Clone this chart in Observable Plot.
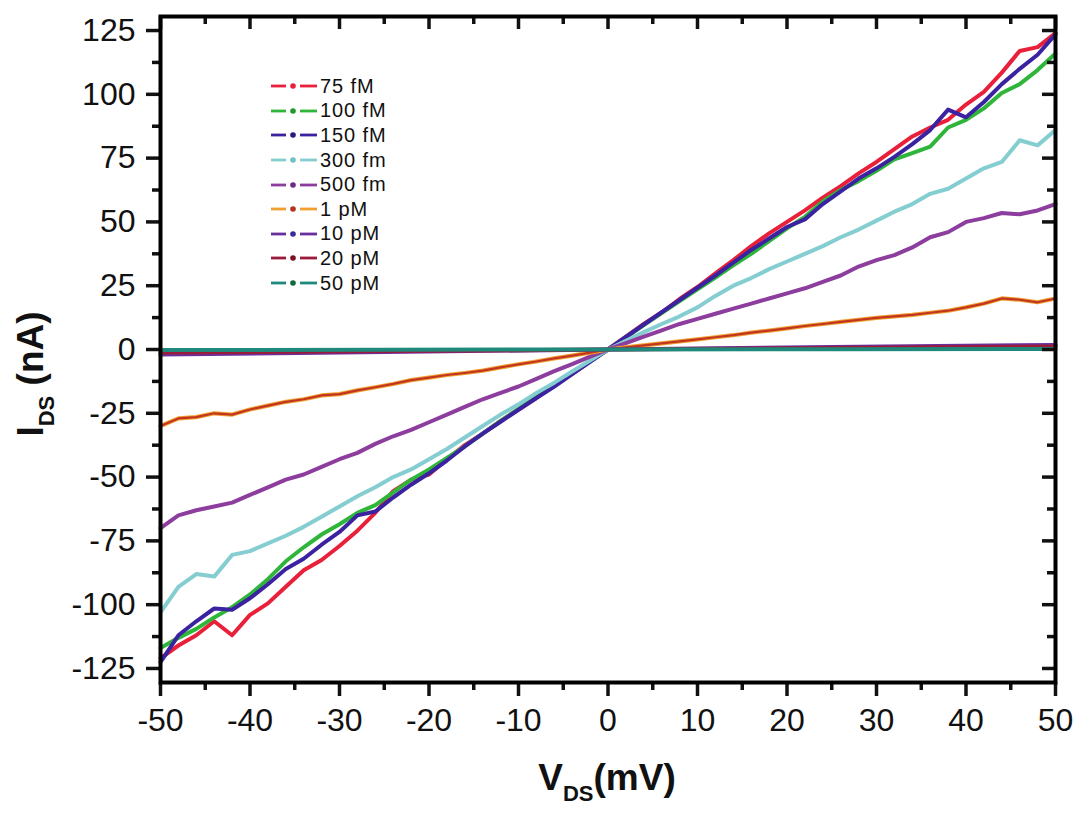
<!DOCTYPE html>
<html>
<head>
<meta charset="utf-8">
<script src="https://cdn.jsdelivr.net/npm/d3@7"></script>
<script src="https://cdn.jsdelivr.net/npm/@observablehq/plot@0.6"></script>
<style>
  body { margin: 0; background: #fff; font-family: "Liberation Sans", Arial, sans-serif; }
  #chart { position: relative; width: 1087px; height: 819px; }
  #legend { position: absolute; left: 271px; top: 74px; }
  #legend .row { height: 24.6px; display: flex; align-items: center; }
  #legend .row span { font-size: 20px; margin-left: 3px; color: #111; letter-spacing: 0.9px; }
</style>
</head>
<body>
<div id="chart"><div id="legend"></div></div>
<script>
// ---------- Data ----------
const V = [-50,-48,-46,-44,-42,-40,-38,-36,-34,-32,-30,-28,-26,-24,-22,-20,-18,-16,-14,-12,-10,-8,-6,-4,-2,
           0,2,4,6,8,10,12,14,16,18,20,22,24,26,28,30,32,34,36,38,40,42,44,46,48,50];
const V_FLAT = [-50, -25, 0, 25, 50];

const I_75fM  = [-121,-116,-112,-106.5,-112,-104,-99.5,-93,-86.5,-82.5,-77,-71,-64,-55.5,-51,-49,-43,-37.5,-33,-28,-23.5,-19,-14,-9.5,-4.6,
                 0,5,10,14.5,19.8,24.5,29.8,35,40.5,45.5,50,54.5,59.5,64,69,73.5,78.5,83.5,87,90,96,101,108.5,117,118.5,124];
const I_100fM = [-117,-113,-109.5,-105,-101,-96,-90,-83,-77.5,-72.5,-68.5,-64,-61,-56,-51,-47,-42.5,-38,-33,-28,-23.3,-18.5,-13.8,-9.2,-4.6,
                 0,4.8,9.6,14.3,19,23.6,28.2,33,37.5,42.5,47.5,52,58,62.5,66,70,74.5,77,79.5,87,90,94.5,100.5,104,109.5,116];
const I_150fM = [-122.5,-112,-106.5,-101.5,-102,-97.5,-92,-86,-82,-76.5,-71.5,-65,-63.5,-58,-53,-48.5,-43.5,-38,-33,-28.3,-23.6,-19,-14.5,-9.6,-4.8,
                 0,4.9,9.8,14.6,19.4,24.2,29,34,39,43.5,48,51,57,62,67,71,75.5,80.5,86,94,91,97,104,110,115.5,123.5];
const I_300fM = [-103,-93,-88,-89,-80.5,-79,-76,-73,-69.5,-65.5,-61.5,-57.5,-54,-50,-47,-43,-39,-34.5,-30,-25.5,-21.5,-17,-13,-8.6,-4.3,
                 0,3.4,6.8,10,13,16.5,21,25,28,31.5,34.5,37.5,40.5,44,47,50.5,54,57,61,63,67,71,73.5,82,80,86];
const I_500fM = [-70,-65,-63,-61.5,-60,-57,-54,-51,-49,-46,-43,-40.5,-37,-34,-31.5,-28.5,-25.5,-22.5,-19.5,-17,-14.5,-11.5,-8.5,-5.7,-2.8,
                 0,2.5,5,7.5,10,12,14,16,18,20,22,24,26.5,29,32.5,35,37,40,44,46,50,51.5,53.5,53,54.5,57];
const I_1pM   = [-30,-27,-26.5,-25,-25.5,-23.5,-22,-20.5,-19.5,-18,-17.5,-16,-14.8,-13.5,-12,-11,-10,-9.2,-8.3,-7,-5.8,-4.7,-3.5,-2.4,-1.2,
                 0,0.8,1.6,2.4,3.2,4,4.8,5.6,6.6,7.4,8.3,9.2,10,10.8,11.6,12.4,13,13.6,14.4,15.2,16.5,18,20,19.5,18.5,20];
const I_10pM  = [-2, -1, 0, 1, 1.8];
const I_20pM  = [-1.2, -0.6, 0, 0.6, 1.2];
const I_50pM  = [-0.2, -0.1, 0, 0.1, 0.2];

const SERIES = [
  { name: "75 fM",  x: V,      y: I_75fM,  color: "#e8203a", dot: "#e8203a" },
  { name: "100 fM", x: V,      y: I_100fM, color: "#2fb63a", dot: "#1f9a2a" },
  { name: "150 fM", x: V,      y: I_150fM, color: "#3b22a0", dot: "#2a1a80" },
  { name: "300 fm", x: V,      y: I_300fM, color: "#84cdd0", dot: "#6cc2c6" },
  { name: "500 fm", x: V,      y: I_500fM, color: "#8c3d9e", dot: "#6e2a88" },
  { name: "1 pM",   x: V,      y: I_1pM,   color: "#f0a030", dot: "#b8301e" },
  { name: "10 pM",  x: V_FLAT, y: I_10pM,  color: "#6a2f9c", dot: "#3a2a9a" },
  { name: "20 pM",  x: V_FLAT, y: I_20pM,  color: "#9b1b3b", dot: "#7a1020" },
  { name: "50 pM",  x: V_FLAT, y: I_50pM,  color: "#1f8a7c", dot: "#0d6b3a" }
];

const X_MAJOR = [-50,-40,-30,-20,-10,0,10,20,30,40,50];
const X_MINOR = [-45,-35,-25,-15,-5,5,15,25,35,45];
const Y_MAJOR = [-125,-100,-75,-50,-25,0,25,50,75,100,125];
const Y_MINOR = [-112.5,-87.5,-62.5,-37.5,-12.5,12.5,37.5,62.5,87.5,112.5];

// ---------- Rows ----------
const rows = SERIES.flatMap(s => s.x.map((v, i) => ({ series: s.name, v, i: s.y[i] })));

const W = 1087, H = 819, ML = 160, MR = 32, MT = 16, MB = 137;
const PW = W - ML - MR, PH = H - MT - MB;
const tickW = 3.5;

const lineMarks = [];
for (const s of SERIES) {
  const data = rows.filter(d => d.series === s.name);
  lineMarks.push(Plot.line(data, {
    x: "v", y: "i", stroke: s.color, strokeWidth: s.name === "1 pM" ? 4.2 : 4,
    strokeLinejoin: "round", strokeLinecap: "round"
  }));
  if (s.name === "1 pM") {
    // red core of the orange trace
    lineMarks.push(Plot.line(data, { x: "v", y: "i", stroke: "#c2351e", strokeWidth: 2.2, strokeLinejoin: "round" }));
  }
}

const plot = Plot.plot({
  width: W, height: H,
  marginLeft: ML, marginRight: MR, marginTop: MT, marginBottom: MB,
  style: { fontFamily: "'Liberation Sans', Arial, sans-serif", background: "#fff", color: "#111" },
  x: { domain: [-50, 50] },
  y: { domain: [-130.5, 130.5] },
  marks: [
    ...lineMarks,
    // tick labels
    Plot.axisX({ ticks: X_MAJOR, tickSize: 0, tickPadding: 26, tickFormat: d => String(d), fontSize: 32, label: null }),
    Plot.axisY({ ticks: Y_MAJOR, tickSize: 0, tickPadding: 25, tickFormat: d => String(d), fontSize: 32, label: null }),
    // outward ticks left / bottom
    Plot.tickY(Y_MAJOR, { y: d => d, insetLeft: -14, insetRight: PW, strokeWidth: tickW }),
    Plot.tickY(Y_MINOR, { y: d => d, insetLeft: -8, insetRight: PW, strokeWidth: tickW }),
    Plot.tickX(X_MAJOR, { x: d => d, insetTop: PH, insetBottom: -14, strokeWidth: tickW }),
    Plot.tickX(X_MINOR, { x: d => d, insetTop: PH, insetBottom: -8, strokeWidth: tickW }),
    // inward ticks top / right
    Plot.tickX(X_MAJOR, { x: d => d, insetTop: 0, insetBottom: PH - 13, strokeWidth: tickW }),
    Plot.tickX(X_MINOR, { x: d => d, insetTop: 0, insetBottom: PH - 8, strokeWidth: tickW }),
    Plot.tickY(Y_MAJOR, { y: d => d, insetLeft: PW - 13, insetRight: 0, strokeWidth: tickW }),
    Plot.tickY(Y_MINOR, { y: d => d, insetLeft: PW - 8, insetRight: 0, strokeWidth: tickW }),
    Plot.frame({ stroke: "#000", strokeWidth: 4 })
  ]
});

// axis titles with subscripts
const svg = d3.select(plot);
const xt = svg.append("text")
  .attr("x", 607).attr("y", 790)
  .attr("text-anchor", "middle")
  .attr("font-size", 37).attr("font-weight", "bold").attr("fill", "#111");
xt.append("tspan").text("V");
xt.append("tspan").attr("font-size", 22).attr("dy", 11).text("DS");
xt.append("tspan").attr("dy", -11).text("(mV)");

const yt = svg.append("text")
  .attr("transform", "translate(43,374) rotate(-90)")
  .attr("text-anchor", "middle")
  .attr("font-size", 37).attr("font-weight", "bold").attr("fill", "#111");
yt.append("tspan").text("I");
yt.append("tspan").attr("font-size", 22).attr("dy", 11).text("DS");
yt.append("tspan").attr("dy", -11).text(" (nA)");

document.getElementById("chart").prepend(plot);

// ---------- Legend ----------
const legend = d3.select("#legend");
for (const s of SERIES) {
  const row = legend.append("div").attr("class", "row");
  const sw = row.append("svg").attr("width", 46).attr("height", 12);
  sw.append("line").attr("x1", 0).attr("x2", 15).attr("y1", 6).attr("y2", 6)
    .attr("stroke", s.color).attr("stroke-width", 2.8);
  sw.append("line").attr("x1", 29).attr("x2", 46).attr("y1", 6).attr("y2", 6)
    .attr("stroke", s.color).attr("stroke-width", 2.8);
  sw.append("circle").attr("cx", 22).attr("cy", 6).attr("r", 2.8).attr("fill", s.dot);
  row.append("span").text(s.name);
}
</script>
</body>
</html>
